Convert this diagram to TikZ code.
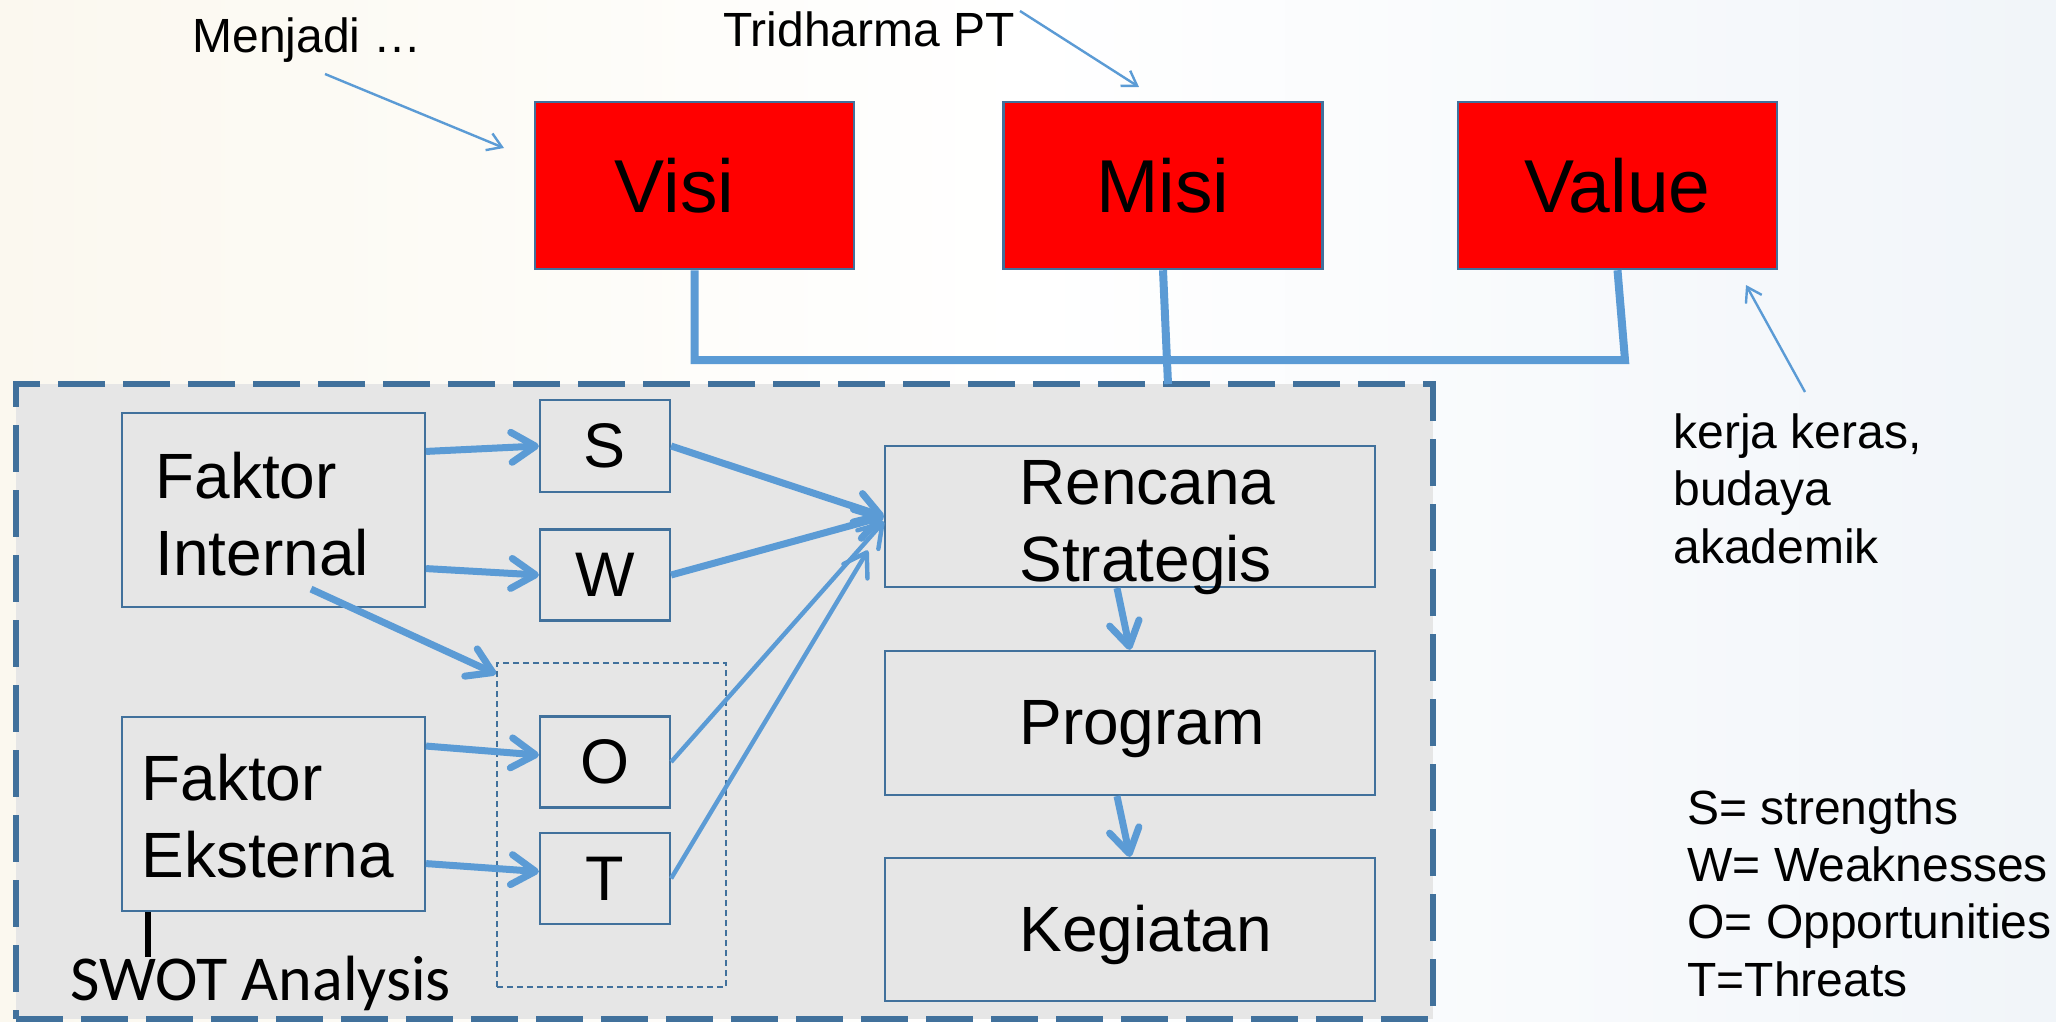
\documentclass[tikz,border=0pt]{standalone}
\usepackage{fontspec}
\setmainfont{Liberation Sans}
\newfontfamily\calibfont{Carlito}
\usetikzlibrary{arrows.meta}
\definecolor{boxblue}{HTML}{41719C}
\definecolor{linkblue}{HTML}{5B9BD5}
\definecolor{panelgray}{HTML}{E6E6E6}
\definecolor{bgleft}{HTML}{FBF8EF}
\definecolor{bgright}{HTML}{F1F5F9}
\tikzset{
  redbox/.style={draw=boxblue, line width=1.25pt, fill=red, minimum width=159.5pt, minimum height=83.5pt, inner sep=0pt, font=\fontsize{37.5}{44}\selectfont},
  graybox/.style={draw=boxblue, line width=1.1pt, fill=panelgray, inner sep=0pt},
  letterbox/.style={graybox, minimum width=65pt, minimum height=45.5pt, font=\fontsize{31.5}{38}\selectfont},
  bigtxt/.style={inner sep=0pt, anchor=base west, align=left, font=\fontsize{32}{38.5}\selectfont},
  smalltxt/.style={inner sep=0pt, anchor=base west, align=left, font=\fontsize{24}{28.75}\selectfont},
  legendtxt/.style={inner sep=0pt, anchor=base west, align=left, font=\fontsize{24}{28.6}\selectfont},
  conn/.style={draw=linkblue, line width=4pt},
  thickarrow/.style={draw=linkblue, line width=3.5pt, -{Straight Barb[length=12pt,width=15pt,round]}},
  thinarrow/.style={draw=linkblue, line width=2.2pt, -{Straight Barb[length=11pt,width=14pt,round]}},
  notearrow/.style={draw=linkblue, line width=1.2pt, -{Straight Barb[length=7pt,width=9pt]}},
}
\begin{document}
\begin{tikzpicture}[x=0.5pt,y=-0.5pt]
\useasboundingbox (0,0) rectangle (2056,1022);
\shade[left color=bgleft, right color=bgright, middle color=white] (0,0) rectangle (2056,1022);

% big dashed panel
\node[draw=boxblue, line width=3pt, dash pattern=on 23.5pt off 9pt, fill=panelgray,
      minimum width=708.5pt, minimum height=317.5pt, inner sep=0pt] (swot) at (724.5,701.5) {};

% top boxes
\node[redbox] (visi) at (694.5,185.5) {\hspace*{-20pt}Visi};
\node[redbox] (misi) at (1163,185.5) {Misi};
\node[redbox] (value) at (1617.5,185.5) {Value};

\coordinate (vjoin) at (1625,360);
\draw[conn] (visi.south) |- (vjoin) -- (value.south);
\coordinate (mjoin) at (1168,384);
\draw[conn] (misi.south) -- (mjoin);

% small dashed O/T group
\node[draw=boxblue, line width=1pt, dash pattern=on 3pt off 2pt, minimum width=114.5pt,
      minimum height=162pt, inner sep=0pt] (ot) at (611.5,825) {};

% boxes
\node[graybox, minimum width=151.5pt, minimum height=97pt] (fi) at (273.5,510) {};
\node[graybox, minimum width=151.5pt, minimum height=97pt] (fe) at (273.5,814) {};
\node[letterbox, minimum height=46pt] (s) at (605,446) {S};
\node[letterbox] (w) at (605,575) {W};
\node[letterbox] (o) at (605,762) {O};
\node[letterbox] (t) at (605,878.5) {T};
\node[graybox, minimum width=245pt, minimum height=70.5pt] (rs) at (1130,516.5) {};
\node[graybox, minimum width=245pt, minimum height=72pt] (prog) at (1130,723) {};
\node[graybox, minimum width=245pt, minimum height=71.5pt] (keg) at (1130,929.5) {};

% texts (base anchor = baseline of last line)
\node[bigtxt] (fi-text) at (155,575) {Faktor\\Internal};
\node[bigtxt] (fe-text) at (141,877) {Faktor\\Eksterna};
\node[bigtxt] (rs-text) at (1019,581) {Rencana\\Strategis};
\node[bigtxt] (prog-text) at (1019,744) {Program};
\node[bigtxt] (keg-text) at (1019,951) {Kegiatan};
\node[smalltxt] (menjadi) at (192,53) {Menjadi …};
\node[smalltxt] (trid) at (723,47) {Tridharma PT};
\node[smalltxt] (kerja) at (1673,563) {kerja keras,\\budaya\\akademik};
\node[legendtxt] (legend) at (1687,996) {S= strengths\\W= Weaknesses\\O= Opportunities\\T=Threats};
\node[inner sep=0pt, anchor=base west, font=\calibfont\fontsize{32}{38}\selectfont] (swl) at (70,1000) {SWOT Analysis};

\draw[black, line width=3pt] ([xshift=13.5pt]fe.south west) -- ++(0,45);

% note arrows
\coordinate (mj-from) at (325,74);
\coordinate (mj-to) at (504,148);
\coordinate (tr-from) at (1020,11);
\coordinate (tr-to) at (1139,87);
\coordinate (kv-from) at (1805,392);
\coordinate (kv-to) at (1746,285);
\draw[notearrow] (mj-from) -- (mj-to);
\draw[notearrow] (tr-from) -- (tr-to);
\draw[notearrow] (kv-from) -- (kv-to);

% SWOT arrows
\draw[thickarrow] (fi.21) -- (s.west);
\draw[thickarrow] (fi.-21) -- (w.west);
\draw[thickarrow] ([xshift=18.75pt,yshift=9.5pt]fi.south) -- ([yshift=-6pt]ot.north west);
\draw[thickarrow] (fe.24) -- (o.174);
\draw[thickarrow] (fe.-18) -- (t.174);
\draw[thickarrow] (s.east) -- (rs.west);
\draw[thickarrow] (w.east) -- (rs.west);
\draw[thinarrow] (o.east) -- ([yshift=-2.5pt]rs.west);
\draw[thinarrow] (t.east) -- ([xshift=-8pt,yshift=-17pt]rs.west);
\draw[thickarrow] ([xshift=-6.5pt]rs.south) -- (prog.north);
\draw[thickarrow] ([xshift=-6.5pt]prog.south) -- (keg.north);
\end{tikzpicture}
\end{document}
